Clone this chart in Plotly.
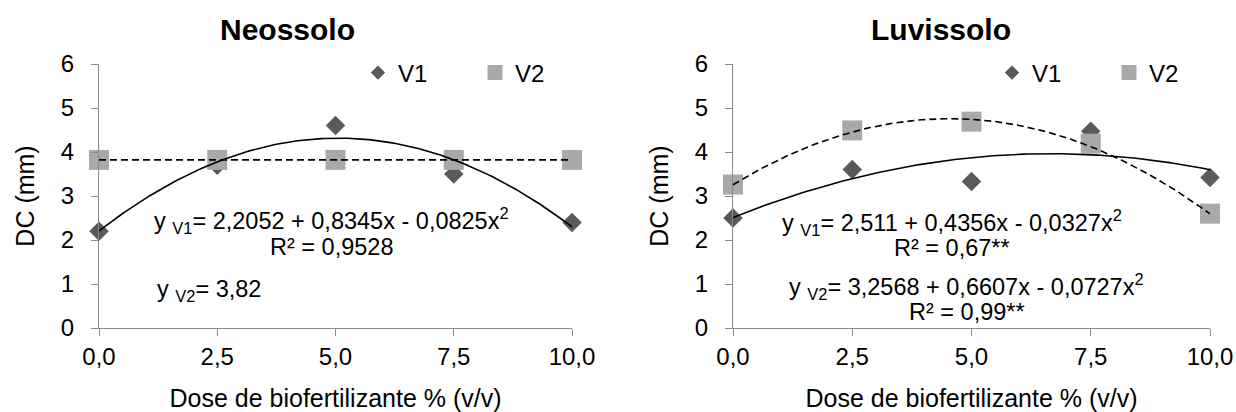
import numpy as np
import plotly.graph_objects as go

# ---- data ----
doses = [0.0, 2.5, 5.0, 7.5, 10.0]
tick_labels = ["0,0", "2,5", "5,0", "7,5", "10,0"]

neo_v1 = [2.2, 3.7, 4.6, 3.5, 2.4]
neo_v2 = [3.82, 3.82, 3.82, 3.82, 3.82]
luv_v1 = [2.5, 3.6, 3.33, 4.47, 3.42]
luv_v2 = [3.26, 4.49, 4.69, 4.19, 2.6]

# trendline coefficients (a + b x + c x^2) as printed on the chart
neo_v1_coef = [2.2052, 0.8345, -0.0825]
neo_v2_coef = [3.82, 0.0, 0.0]
luv_v1_coef = [2.511, 0.4356, -0.0327]
luv_v2_coef = [3.2568, 0.6607, -0.0727]

titles = ["Neossolo", "Luvissolo"]
series_names = ["V1", "V2"]

# ---- styling ----
FONT = "Liberation Sans, Arial, sans-serif"
C_V1 = "#5a5a5a"
C_V2 = "#a9a9a9"
AX = "#8a8a8a"
W, H = 1236, 412

def px_x(p):
    return p / W

def px_y(p):
    return 1 - p / H

xs = np.linspace(0, 10, 201)

def curve(coef):
    return coef[0] + coef[1] * xs + coef[2] * xs ** 2

fig = go.Figure()

panels = [
    ("x", "y", neo_v1, neo_v2, neo_v1_coef, neo_v2_coef, "legend"),
    ("x2", "y2", luv_v1, luv_v2, luv_v1_coef, luv_v2_coef, "legend2"),
]

for xa, ya, v1, v2, c1, c2, lg in panels:
    fig.add_trace(go.Scatter(x=doses, y=v1, mode="markers", xaxis=xa, yaxis=ya,
                             marker=dict(symbol="diamond", size=15, color=C_V1),
                             showlegend=False, cliponaxis=False))
    fig.add_trace(go.Scatter(x=doses, y=v2, mode="markers", xaxis=xa, yaxis=ya,
                             marker=dict(symbol="square", size=20, color=C_V2),
                             showlegend=False, cliponaxis=False))
    fig.add_trace(go.Scatter(x=xs, y=curve(c1), mode="lines", xaxis=xa, yaxis=ya,
                             line=dict(color="black", width=1.6),
                             showlegend=False, hoverinfo="skip", cliponaxis=False))
    fig.add_trace(go.Scatter(x=xs, y=curve(c2), mode="lines", xaxis=xa, yaxis=ya,
                             line=dict(color="black", width=1.6, dash="7px,4px"),
                             showlegend=False, hoverinfo="skip", cliponaxis=False))
    # legend entries
    fig.add_trace(go.Scatter(x=[None], y=[None], mode="markers", xaxis=xa, yaxis=ya,
                             name=series_names[0], legend=lg,
                             marker=dict(symbol="diamond", size=11, color=C_V1)))
    fig.add_trace(go.Scatter(x=[None], y=[None], mode="markers", xaxis=xa, yaxis=ya,
                             name=series_names[1], legend=lg,
                             marker=dict(symbol="square", size=15, color=C_V2)))

def xaxis(domain, anchor):
    return dict(domain=domain, anchor=anchor, range=[0, 10], tickvals=doses,
                ticktext=tick_labels, showline=True, linecolor=AX, linewidth=1.2,
                ticks="outside", ticklen=7, tickcolor=AX, tickwidth=1.2,
                showgrid=False, zeroline=False, ticklabelstandoff=0, automargin=False,
                tickfont=dict(size=24, color="black", family=FONT),
                title=dict(text="Dose de biofertilizante % (v/v)", standoff=20,
                           font=dict(size=25, color="black", family=FONT)))

def yaxis(domain, anchor):
    return dict(domain=domain, anchor=anchor, range=[0, 6], dtick=1,
                showline=True, linecolor=AX, linewidth=1.2,
                ticks="outside", ticklen=7, tickcolor=AX, tickwidth=1.2,
                showgrid=False, zeroline=False, ticklabelstandoff=12, automargin=False,
                tickfont=dict(size=24, color="black", family=FONT),
                title=dict(text="DC (mm)", standoff=18,
                           font=dict(size=25, color="black", family=FONT)))

ydom = [px_y(328), px_y(64)]
fig.update_layout(
    width=W, height=H, margin=dict(l=0, r=0, t=0, b=0),
    paper_bgcolor="white", plot_bgcolor="white",
    font=dict(family=FONT, size=24, color="black"),
    xaxis=xaxis([px_x(99), px_x(572)], "y"),
    yaxis=yaxis(ydom, "x"),
    xaxis2=xaxis([px_x(733), px_x(1210)], "y2"),
    yaxis2=yaxis(ydom, "x2"),
    legend=dict(orientation="h", x=px_x(358), y=px_y(73), xanchor="left", yanchor="middle",
                entrywidth=72, font=dict(size=24, family=FONT), bgcolor="rgba(0,0,0,0)",
                itemwidth=30, tracegroupgap=0),
    legend2=dict(orientation="h", x=px_x(992), y=px_y(73), xanchor="left", yanchor="middle",
                 entrywidth=72, font=dict(size=24, family=FONT), bgcolor="rgba(0,0,0,0)",
                 itemwidth=30, tracegroupgap=0),
    showlegend=True,
)

ann = []
# titles
ann.append(dict(text="<b>" + titles[0] + "</b>", x=px_x(287), y=px_y(30), xref="paper", yref="paper",
                showarrow=False, font=dict(size=30, family=FONT, color="black"),
                xanchor="center", yanchor="middle"))
ann.append(dict(text="<b>" + titles[1] + "</b>", x=px_x(941), y=px_y(30), xref="paper", yref="paper",
                showarrow=False, font=dict(size=30, family=FONT, color="black"),
                xanchor="center", yanchor="middle"))

def eq(text, xp, yp, anchor):
    ann.append(dict(text=text, x=px_x(xp), y=px_y(yp), xref="paper", yref="paper",
                    showarrow=False, font=dict(size=23.5, family=FONT, color="black"),
                    xanchor=anchor, yanchor="middle"))

eq("y <sub>V1</sub>= 2,2052 + 0,8345x - 0,0825x<sup>2</sup>", 152, 220, "left")
eq("R² = 0,9528", 332, 247, "center")
eq("y <sub>V2</sub>= 3,82", 155, 290, "left")
eq("y <sub>V1</sub>= 2,511 + 0,4356x - 0,0327x<sup>2</sup>", 780, 222, "left")
eq("R² = 0,67**", 952, 248, "center")
eq("y <sub>V2</sub>= 3,2568 + 0,6607x - 0,0727x<sup>2</sup>", 787, 286, "left")
eq("R² = 0,99**", 967, 312, "center")

fig.update_layout(annotations=ann)
fig.write_html("out.html", config={"displayModeBar": False},
               post_script="document.body.style.margin='0';document.body.style.overflow='hidden';")
